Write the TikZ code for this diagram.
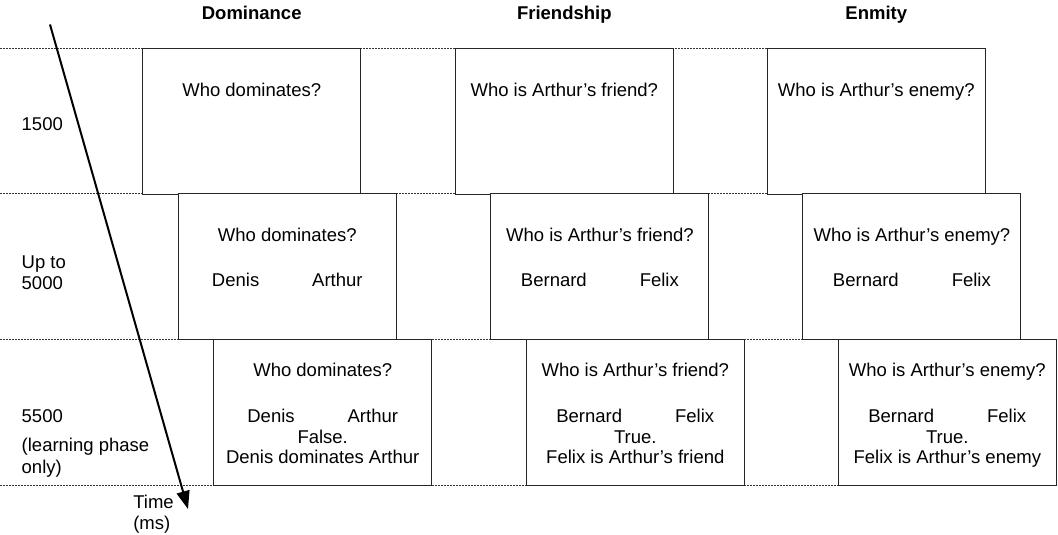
\documentclass[tikz,border=0pt]{standalone}
\usepackage{fontspec}
\setmainfont{Liberation Sans}
\usetikzlibrary{arrows.meta}
\begin{document}
\begin{tikzpicture}[x=1pt,y=-1pt,
  every node/.style={font=\fontsize{18.5pt}{21.5pt}\selectfont, inner sep=0pt, outer sep=0pt},
  trialbox/.style={draw=black!85, line width=1pt, fill=white, anchor=north west,
                   minimum width=218pt, minimum height=145.5pt},
  txt/.style={anchor=base},
  lbl/.style={anchor=base west},
  hdr/.style={anchor=base, font=\fontsize{18.5pt}{21.5pt}\selectfont\bfseries},
  sepline/.style={draw=black!80, line width=0.9pt, dash pattern=on 1.6pt off 1.4pt},
  timearrow/.style={line width=2pt, -{Triangle[length=18pt,width=13pt]}}]
\useasboundingbox (0,0) rectangle (1058,535);

% separators
\draw[sepline] (0,48.5) -- (900,48.5);
\draw[sepline] (0,193.5) -- (950,193.5);
\draw[sepline] (0,339) -- (950,339);
\draw[sepline] (0,485) -- (950,485);

% headers
\node[hdr] (hdom) at (251.7,20) {Dominance};
\node[hdr] (hfri) at (564.3,20) {Friendship};
\node[hdr] (henm) at (876.3,20) {Enmity};

% boxes and their texts
\foreach \c/\x/\q/\na/\nb/\v/\s in {
  d/142.7/{Who dominates?}/Denis/Arthur/False./{Denis dominates Arthur},
  f/455.3/{Who is Arthur’s friend?}/Bernard/Felix/True./{Felix is Arthur’s friend},
  e/767.3/{Who is Arthur’s enemy?}/Bernard/Felix/True./{Felix is Arthur’s enemy}} {
  % row 1
  \node[trialbox] (\c1) at (\x,48.5) {};
  \node[txt] (\c1q) at (\x+109,96) {\q};
  % row 2
  \node[trialbox] (\c2) at (\x+35.6,193.5) {};
  \node[txt] (\c2q) at (\x+144.6,241.8) {\q};
  \node[txt] (\c2n) at (\x+144.6,286.8) {\na\hspace{53pt}\nb};
  % row 3
  \node[trialbox, minimum height=146pt] (\c3) at (\x+71,339) {};
  \node[txt] (\c3q) at (\x+180,376) {\q};
  \node[txt] (\c3n) at (\x+180,422.6) {\na\hspace{53pt}\nb};
  \node[txt] (\c3v) at (\x+180,443.2) {\v};
  \node[txt] (\c3s) at (\x+180,463.6) {\s};
}

% left labels
\node[lbl] (l1) at (21.7,130) {1500};
\node[lbl] (l2a) at (21.7,268.3) {Up to};
\node[lbl] (l2b) at (21.7,289.8) {5000};
\node[lbl] (l3a) at (21.7,422.3) {5500};
\node[lbl] (l3b) at (21.7,451.6) {(learning phase};
\node[lbl] (l3c) at (21.7,473.1) {only)};
\node[lbl] (t1) at (133.3,508.3) {Time};
\node[lbl] (t2) at (133.3,529.8) {(ms)};

% time arrow
\coordinate (tstart) at (50,24.5);
\coordinate (tend) at (188,509);
\draw[timearrow] (tstart) -- (tend);
\end{tikzpicture}
\end{document}
